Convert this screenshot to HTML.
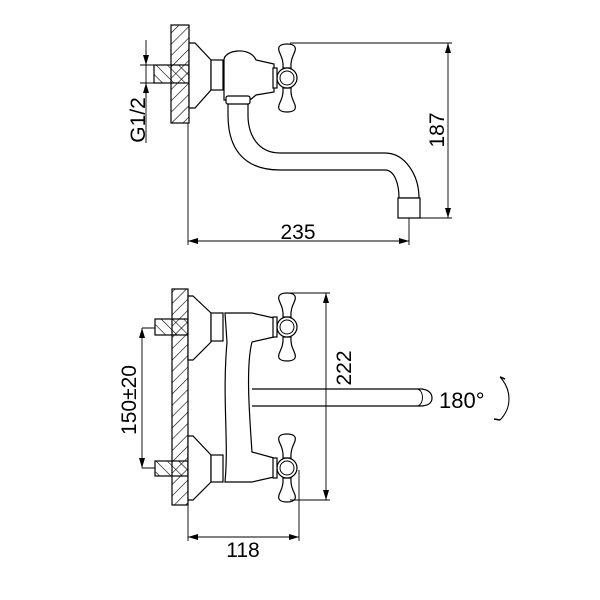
<!DOCTYPE html>
<html><head><style>html,body{margin:0;padding:0;background:#fff}svg{display:block}</style></head><body>
<svg width="600" height="600" viewBox="0 0 600 600" xmlns="http://www.w3.org/2000/svg" font-family="Liberation Sans, sans-serif">
<defs>
<pattern id="h" width="8" height="8" patternUnits="userSpaceOnUse" patternTransform="rotate(45)">
<line x1="0" y1="0" x2="0" y2="8" stroke="#000" stroke-width="1.2"/></pattern>
<pattern id="h2" width="8" height="8" patternUnits="userSpaceOnUse" patternTransform="rotate(-45)">
<line x1="0" y1="0" x2="0" y2="8" stroke="#000" stroke-width="1.2"/></pattern>
<marker id="a" markerWidth="10" markerHeight="6" refX="10" refY="3" orient="auto" markerUnits="userSpaceOnUse"><path d="M0,0 L10,3 L0,6z" fill="#000"/></marker>
<g id="cross">
<path d="M-4,-10 C-3,-22 -10,-26 -8,-31 C-6,-35 6,-35 8,-31 C10,-26 3,-22 4,-10 Z" fill="#fff" stroke="#000" stroke-width="1.2"/>
<path d="M-4,10 C-3,22 -10,26 -8,31 C-6,35 6,35 8,31 C10,26 3,22 4,10 Z" fill="#fff" stroke="#000" stroke-width="1.2"/>
<circle r="10" fill="#fff" stroke="#000" stroke-width="1.2"/><circle r="7" fill="none" stroke="#000" stroke-width="1"/>
<rect x="-14" y="-10" width="4" height="20" fill="#fff" stroke="#000"/>
</g>
</defs>
<g stroke="#000" stroke-width="1.2" fill="none">
<!-- TOP VIEW -->
<rect x="171" y="25" width="18" height="98" fill="url(#h)"/>
<rect x="154" y="65" width="35" height="18" fill="url(#h2)"/>
<path d="M189,43 L195,43 L211,60 L211,90 L195,108 L189,108 Z" fill="#fff"/>
<rect x="211" y="60" width="12" height="30" fill="#fff"/>
<path d="M224,100 L224,60 C224,50 250,46 256,60 L274,64 L274,92 L256,95 L250,100 Z" fill="#fff"/>
<path d="M228,100 L228,115 C228,150 245,170 280,170 L385,170 C395,170 399,185 399,198 L419,198 C419,175 405,153 385,153 L280,153 C258,153 248,135 248,115 L248,100"/>
<rect x="226" y="96" width="24" height="8" rx="2" fill="#fff"/>
<rect x="398" y="198" width="22" height="20" fill="#fff"/>
<use href="#cross" x="287" y="78"/>
<path d="M290,43 H452 M420,218 H452 M188,123 V245 M409,218 V245 M146,40 V143 M140,65 H154 M140,83 H154" stroke-width="0.9"/>
<path d="M448,60 V43" marker-end="url(#a)" stroke-width="0.9"/>
<path d="M448,60 V218" marker-end="url(#a)" stroke-width="0.9"/>
<path d="M146,50 V65" marker-end="url(#a)" stroke-width="0.9"/>
<path d="M146,98 V83" marker-end="url(#a)" stroke-width="0.9"/>
<path d="M300,241 H188" marker-end="url(#a)" stroke-width="0.9"/>
<path d="M300,241 H409" marker-end="url(#a)" stroke-width="0.9"/>
<!-- BOTTOM VIEW -->
<rect x="172" y="289" width="16" height="216" fill="url(#h)"/>
<rect x="155" y="319" width="33" height="16" fill="url(#h2)"/>
<rect x="155" y="461" width="33" height="15" fill="url(#h2)"/>
<path d="M188,296 L193,296 L211,313 L211,342 L193,360 L188,360 Z" fill="#fff"/>
<path d="M188,436 L193,436 L211,455 L211,482 L193,500 L188,500 Z" fill="#fff"/>
<rect x="211" y="313" width="12" height="28" fill="#fff"/>
<rect x="211" y="455" width="12" height="27" fill="#fff"/>
<path d="M225,313 L252,313 L274,318 L274,337 L252,342 C246,365 249,410 252,452 L274,458 L274,477 L252,482 L225,482 C229,440 222,400 227,342 Z" fill="#fff"/>
<path d="M252,389 H420 C428,389 432,393 432,398 C432,403 428,406 420,406 H252" fill="#fff"/>
<path d="M418,389 C424,392 424,403 418,406" stroke-width="1"/>
<use href="#cross" x="287" y="327"/>
<use href="#cross" x="287" y="468"/>
<path d="M290,293 H330 M290,500 H330 M299,470 V541 M188,505 V541 M142,328 H155 M142,468 H155" stroke-width="0.9"/>
<path d="M326,400 V293" marker-end="url(#a)" stroke-width="0.9"/>
<path d="M326,400 V500" marker-end="url(#a)" stroke-width="0.9"/>
<path d="M142,400 V328" marker-end="url(#a)" stroke-width="0.9"/>
<path d="M142,400 V468" marker-end="url(#a)" stroke-width="0.9"/>
<path d="M243,537 H188" marker-end="url(#a)" stroke-width="0.9"/>
<path d="M243,537 H299" marker-end="url(#a)" stroke-width="0.9"/>
<path d="M500,377 C512,390 512,408 500,420" stroke-width="1.1"/>
<path d="M500,377 L505,379 M500,420 L494,419" stroke-width="1.5"/>
</g>
<g font-size="21" fill="#000">
<text x="298" y="239" text-anchor="middle">235</text>
<text transform="translate(444,130) rotate(-90)" text-anchor="middle">187</text>
<text transform="translate(145,120) rotate(-90)" text-anchor="middle">G1/2</text>
<text transform="translate(351,368) rotate(-90)" text-anchor="middle">222</text>
<text transform="translate(136,400) rotate(-90)" text-anchor="middle">150±20</text>
<text x="243" y="557" text-anchor="middle">118</text>
<text x="439" y="408" font-size="22">180°</text>
</g>
</svg>
</body></html>
